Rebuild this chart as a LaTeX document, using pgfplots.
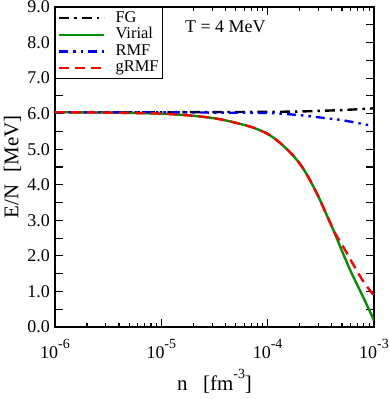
\documentclass[border=0pt]{standalone}
\usepackage{fontspec}
\setmainfont{Liberation Serif}
\usepackage{pgfplots}
\pgfplotsset{compat=1.18}
\definecolor{virgreen}{RGB}{0,145,0}
\newcommand{\sups}[1]{\raisebox{0.55em}{\fontsize{14}{14}\selectfont #1}}

\begin{document}
\begin{tikzpicture}
\begin{axis}[
    scale only axis,
    width=319bp, height=320bp,
    xmode=log,
    xmin=1e-6, xmax=1e-3,
    ymin=0, ymax=9,
    xtick={1e-6,1e-5,1e-4,1e-3},
    xticklabels={10\sups{-6},10\sups{-5},10\sups{-4},10\sups{-3}},
    ytick={0,0.5,...,9},
    yticklabels={0.0,,1.0,,2.0,,3.0,,4.0,,5.0,,6.0,,7.0,,8.0,,9.0},
    tick label style={font=\fontsize{18}{20}\selectfont},
    xticklabel style={anchor=base, yshift=-31bp, inner sep=0pt},
    yticklabel style={inner sep=0pt, xshift=-5bp},
    tick align=inside,
    major tick length=8bp,
    minor tick length=4.5bp,
    every tick/.style={black, line width=1.1pt},
    axis line style={line width=1.2pt},
    xlabel={n\hspace{0.75em}[fm\sups{-3}]},
    ylabel={E/N\hspace{0.6em}[MeV]},
    label style={font=\fontsize{21}{24}\selectfont, inner sep=0pt},
    xlabel style={at={(axis description cs:0.5,0)}, anchor=base, yshift=-63bp},
    ylabel style={at={(axis description cs:-0.1144,0.5)}, anchor=base},
    legend style={at={(0,1)}, anchor=north west, draw=black, line width=1pt,
        font=\fontsize{16.5}{18}\selectfont, inner sep=2.5bp, row sep=0pt, column sep=9bp,
        nodes={text height=11bp, text depth=3.2bp, inner sep=1.2bp},
        legend cell align=left},
    legend image code/.code={\draw[#1, line width=2.4pt] (0bp,0bp) -- (45bp,0bp);},
]
\addplot[black, line width=2.4pt, dash pattern=on 10bp off 5bp on 2.5bp off 5bp] coordinates {
    (1e-6,6.04) (1e-5,6.04) (1e-4,6.05) (2e-4,6.06) (5e-4,6.10) (1e-3,6.15)
};
\addlegendentry{FG}
\addplot[virgreen, line width=2.4pt, smooth] coordinates {
    (1e-6,6.04) (3.162e-6,6.03) (1e-5,6.00) (1.995e-5,5.94) (3.162e-5,5.87)
    (4.467e-5,5.78) (6.761e-5,5.64) (8.2e-5,5.55) (1e-4,5.43) (1.2e-4,5.27)
    (1.445e-4,5.06) (1.738e-4,4.82)
    (2.089e-4,4.52) (2.512e-4,4.12) (3.020e-4,3.65) (3.631e-4,3.12) (4.266e-4,2.64)
    (5.129e-4,2.06) (6.166e-4,1.51) (7.943e-4,0.83) (1e-3,0.19)
};
\addlegendentry{Virial}
\addplot[blue, line width=2.4pt, dash pattern=on 9bp off 5bp on 2.5bp off 5bp on 2.5bp off 5bp] coordinates {
    (1e-6,6.04) (1e-5,6.04) (1e-4,6.02) (1.318e-4,6.00) (2e-4,5.96) (5e-4,5.82) (1e-3,5.65)
};
\addlegendentry{RMF}
\addplot[red, line width=2.4pt, smooth, dash pattern=on 10bp off 6bp] coordinates {
    (1e-6,6.04) (3.162e-6,6.03) (1e-5,6.00) (1.995e-5,5.94) (3.162e-5,5.87)
    (4.467e-5,5.78) (6.761e-5,5.64) (8.2e-5,5.55) (1e-4,5.43) (1.2e-4,5.27)
    (1.445e-4,5.06) (1.738e-4,4.82)
    (2.089e-4,4.52) (2.512e-4,4.12) (3.020e-4,3.65) (3.631e-4,3.12) (4.266e-4,2.66)
    (5.129e-4,2.26) (6.397e-4,1.75) (7.943e-4,1.28) (1e-3,0.88)
};
\addlegendentry{gRMF}
\node[anchor=base west, inner sep=0pt, font=\fontsize{18}{20}\selectfont] at (axis cs:1.67e-5,8.27) {T = 4 MeV};
\coordinate (sw) at (rel axis cs:0,0);
\coordinate (ne) at (rel axis cs:1,1);
\end{axis}
\pgfresetboundingbox
\path ([shift={(-55bp,-72bp)}]sw) rectangle ([shift={(16bp,7bp)}]ne);
\end{tikzpicture}
\end{document}
